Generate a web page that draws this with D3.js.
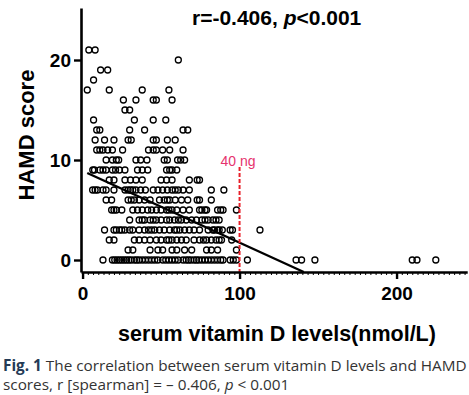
<!DOCTYPE html>
<html>
<head>
<meta charset="utf-8">
<script src="https://cdnjs.cloudflare.com/ajax/libs/d3/7.8.5/d3.min.js"></script>
<style>
  body { margin: 0; background: #fff; }
  svg { display: block; }
  .axis text { font-family: "Liberation Sans", Arial, sans-serif; font-weight: bold; font-size: 19px; fill: #000; }
</style>
</head>
<body>
<div id="chart"></div>
<script>
// HAMD scores (rows) and the vitamin D values (nmol/L) read for each row
const hamdScores = [0, 1, 2, 3, 4, 5, 6, 7, 8, 9, 10, 11, 12, 13, 14, 15, 16, 17, 18, 19, 20, 21];
const vitDByScore = [
  [13, 19, 20.5, 22, 23.5, 25, 26.5, 28, 29.5, 31, 33, 34.5, 36, 38, 40, 42, 44, 46, 48, 51, 53, 55, 57, 59, 61, 64, 66, 67.5, 69, 71, 72.5, 74, 76, 78, 80, 82, 84, 86, 88, 89.5, 94, 96, 98, 105, 136, 139.5, 148, 210, 213, 225],
  [29, 32, 43, 48, 51, 57, 60, 65, 69.5, 79, 82, 86, 98],
  [17, 20, 33, 36, 39.5, 43, 47, 50, 53.5, 55, 57, 60, 63, 66, 71, 74.5, 77, 79, 82, 85, 87, 88.5, 95],
  [14, 20, 21.5, 23.5, 25, 27, 30, 32, 36, 39.5, 42, 44, 46, 49, 52, 55.5, 58.5, 60, 62, 65, 68, 71, 74.5, 80, 83, 84, 86, 87, 89, 94, 95.5, 113],
  [30, 36, 38, 39.5, 43, 45, 47, 50, 53.5, 55.5, 58.5, 61, 63, 66, 69.5, 72.5, 76, 78, 80, 83, 85, 87],
  [18.5, 20, 21.5, 25, 32, 35, 38, 41.5, 44, 47, 50, 53.5, 55, 57, 60, 64, 68, 74.5, 76, 78, 79, 86, 88, 89.5, 98],
  [15, 18.5, 29, 31, 33, 36, 39.5, 43, 49, 52, 54, 55.5, 59, 63, 67, 73, 74.5, 82],
  [6.4, 8, 9.5, 13, 15, 20, 27, 29, 30.5, 32, 34, 37, 40, 45, 48, 51, 54, 57, 59, 61, 64, 68, 82, 90],
  [17, 20, 27, 30.5, 34, 38, 50, 53.5, 57, 68, 73, 74.5],
  [6.5, 7.6, 11, 13, 15, 19, 21, 23.5, 27, 35, 38, 41.5, 53.5, 55.5, 57, 60],
  [15, 19, 21.5, 23, 34, 37, 41, 52, 54, 60.5, 62.5, 65],
  [9, 11, 13, 16, 19, 25.5, 42, 45, 47, 51, 55.5, 64],
  [8, 14, 20, 29, 31, 45, 47, 54, 59],
  [9, 11, 30, 39.5, 64, 67],
  [7, 33, 45, 53],
  [27, 30],
  [26, 34, 45, 47, 57],
  [3, 17, 38, 55],
  [7],
  [11.5, 16],
  [61],
  [4, 8]
];
const xTicks = [0, 100, 200];
const yTicks = [0, 10, 20];
// spearman fit line as drawn
const fitIntercept = 8.915;
const fitSlope = -0.0718;
const fitStartX = 3;
const cutoffX = 100;       // 40 ng/mL
const cutoffTopY = 9.3;

const W = 469, H = 395;
const svg = d3.select("#chart").append("svg").attr("width", W).attr("height", H);

const x = d3.scaleLinear().domain([-1, 245]).range([81, 467.2]);
const y = d3.scaleLinear().domain([-1.2, 25.2]).range([272, 8]);

const points = [];
hamdScores.forEach((h, i) => vitDByScore[i].forEach(v => points.push({ v: v, h: h })));

// points
svg.append("g").selectAll("circle")
  .data(points)
  .join("circle")
  .attr("cx", d => x(d.v))
  .attr("cy", d => y(d.h))
  .attr("r", 3)
  .attr("fill", "none")
  .attr("stroke", "#000")
  .attr("stroke-width", 1.3);

// fit line, runs down to the x axis
const yMin = y.domain()[0];
const fitEndX = (fitIntercept - yMin) / -fitSlope;
svg.append("line")
  .attr("x1", x(fitStartX)).attr("y1", y(fitIntercept + fitSlope * fitStartX))
  .attr("x2", x(fitEndX)).attr("y2", y(yMin))
  .attr("stroke", "#000").attr("stroke-width", 2.4);

// 40 ng cutoff
svg.append("line")
  .attr("x1", x(cutoffX)).attr("x2", x(cutoffX))
  .attr("y1", y(cutoffTopY)).attr("y2", y(yMin))
  .attr("stroke", "#e8202a").attr("stroke-width", 2)
  .attr("stroke-dasharray", "4,2");
svg.append("text")
  .attr("x", x(cutoffX) - 19).attr("y", y(cutoffTopY) - 1)
  .style("font-family", "Liberation Sans, Arial, sans-serif")
  .style("font-size", "14px")
  .attr("fill", "#e6336e")
  .text("40 ng");

// minor x ticks
svg.append("g")
  .attr("transform", "translate(0," + y(yMin) + ")")
  .call(d3.axisBottom(x).tickValues(d3.range(0, 244, 10 / 3)).tickSize(3).tickSizeOuter(0).tickFormat(""))
  .call(g => g.select(".domain").remove())
  .call(g => g.selectAll("line").attr("stroke-width", 1));

// x axis
svg.append("g")
  .attr("class", "axis")
  .attr("transform", "translate(0," + y(yMin) + ")")
  .call(d3.axisBottom(x).tickValues(xTicks).tickSize(7).tickSizeOuter(0).tickPadding(8))
  .call(g => g.select(".domain").attr("stroke-width", 2.6))
  .call(g => g.selectAll(".tick line").attr("stroke-width", 2.4));

// y axis
svg.append("g")
  .attr("class", "axis")
  .attr("transform", "translate(" + x(-1) + ",0)")
  .call(d3.axisLeft(y).tickValues(yTicks).tickSize(7).tickSizeOuter(0).tickPadding(3))
  .call(g => g.select(".domain").attr("stroke-width", 2.6))
  .call(g => g.selectAll(".tick line").attr("stroke-width", 2.4));

// title
const title = svg.append("text")
  .attr("x", 192).attr("y", 25)
  .style("font-family", "Liberation Sans, Arial, sans-serif")
  .style("font-weight", "bold").style("font-size", "21px");
title.append("tspan").text("r=-0.406, ");
title.append("tspan").style("font-style", "italic").text("p");
title.append("tspan").text("<0.001");

// axis titles
svg.append("text")
  .attr("transform", "translate(34,135) rotate(-90)")
  .attr("text-anchor", "middle")
  .style("font-family", "Liberation Sans, Arial, sans-serif")
  .style("font-weight", "bold").style("font-size", "22px")
  .text("HAMD score");
svg.append("text")
  .attr("x", 277).attr("y", 341)
  .attr("text-anchor", "middle")
  .style("font-family", "Liberation Sans, Arial, sans-serif")
  .style("font-weight", "bold").style("font-size", "21.5px")
  .text("serum vitamin D levels(nmol/L)");

// caption
const cap = svg.append("g")
  .style("font-family", "Open Sans, Noto Sans, sans-serif")
  .style("font-size", "14.5px").attr("fill", "#333");
const l1 = cap.append("text").attr("x", 3).attr("y", 371);
l1.append("tspan").style("font-weight", "bold").attr("fill", "#243a56").text("Fig. 1");
l1.append("tspan").text(" The correlation between serum vitamin D levels and HAMD");
const l2 = cap.append("text").attr("x", 3).attr("y", 390);
l2.append("tspan").text("scores, r [spearman] = \u2013 0.406, ");
l2.append("tspan").style("font-style", "italic").text("p");
l2.append("tspan").text(" < 0.001");
// fit caption line 1 to the picture width
const w1 = l1.node().getComputedTextLength();
cap.style("font-size", (14.5 * 464 / w1) + "px");
</script>
</body>
</html>
